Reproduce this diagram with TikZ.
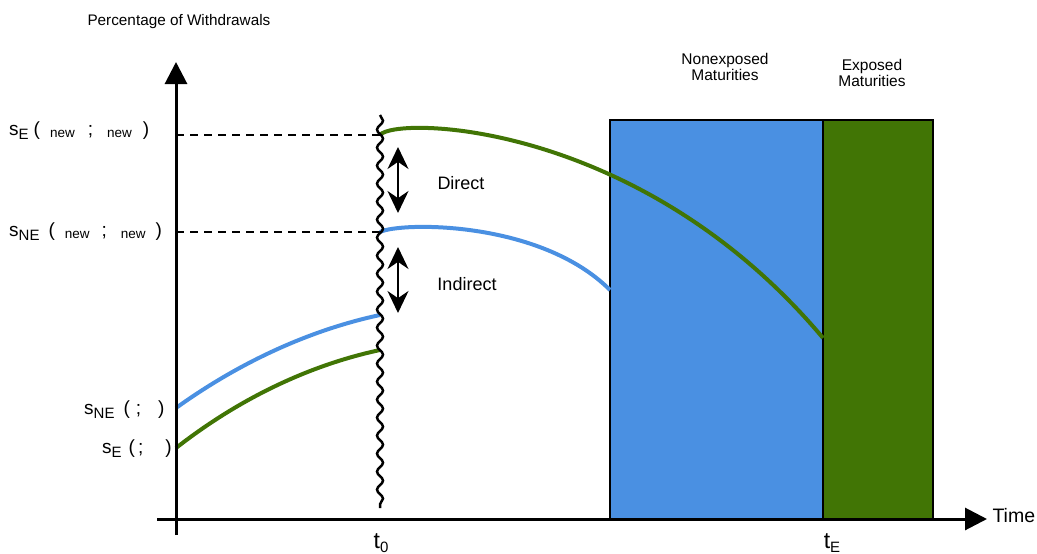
\documentclass[tikz,border=0pt]{standalone}
\usepackage{fontspec}
\setmainfont{Liberation Sans}
\usetikzlibrary{arrows.meta,decorations.pathmorphing}
\definecolor{nexblue}{HTML}{4A90E2}
\definecolor{exgreen}{HTML}{417505}
\newcommand\lowsub[1]{\raisebox{-3.5pt}{\fontsize{15}{16}\selectfont #1}}
\newcommand\smallnew{\raisebox{-2pt}{\fontsize{13.5}{14}\selectfont new}}
\begin{document}
\begin{tikzpicture}[x=1pt, y=-1pt,
    axis/.style={line width=3pt, -{Triangle[length=22pt,width=22pt]}},
    curve/.style={line width=4pt},
    guide/.style={line width=1.2pt, dash pattern=on 8pt off 6pt},
    effect/.style={line width=2pt, {Stealth[length=22pt,width=21pt]}-{Stealth[length=22pt,width=21pt]}},
    slabel/.style={anchor=west, inner sep=0pt, font=\fontsize{19}{20}\selectfont},
    tlabel/.style={font=\fontsize{18}{20}\selectfont},
    boxlabel/.style={align=center, font=\fontsize{15.5}{16.5}\selectfont}]
    \useasboundingbox (0,0) rectangle (1037,554);
        % maturity boxes
        \fill[nexblue] (610,120) rectangle (823,519);
        \fill[exgreen] (823,120) rectangle (933,519);
        \draw[line width=1.5pt] (610,519) -- (610,120) -- (933,120) -- (933,519);
        \draw[line width=1.5pt] (823,120) -- (823,519);
        \node[boxlabel] (nonexp) at (725,67) {Nonexposed\\Maturities};
        \node[boxlabel] (exp) at (872,73) {Exposed\\Maturities};
        % points on the axes and on the shock line
        \coordinate (yE) at (176,135);
        \coordinate (yNE) at (176,232);
        \coordinate (seNew) at (380,135);
        \coordinate (sneNew) at (380,232);
        \coordinate (sneOld) at (176,408);
        \coordinate (seOld) at (176,448);
        \coordinate (sneShock) at (380,315);
        \coordinate (seShock) at (380,350);
        \coordinate (nexEnd) at (610,290);
        \coordinate (exEnd) at (823,338);
        \coordinate (shockTop) at (380,115);
        \coordinate (shockBot) at (380,508);
        % dashed guides
        \draw[guide] (yE) -- (seNew);
        \draw[guide] (yNE) -- (sneNew);
        % withdrawal curves
        \draw[curve, nexblue] (sneOld) .. controls (240,362) and (310,330) .. (sneShock);
        \draw[curve, exgreen] (seOld) .. controls (240,398) and (310,365) .. (seShock);
        \draw[curve, nexblue] (sneNew) .. controls (400,222) and (540,220) .. (nexEnd);
        \draw[curve, exgreen] (seNew) .. controls (395,116) and (640,120) .. (exEnd);
        % shock
        \draw[line width=2.5pt, decorate, decoration={snake, amplitude=3pt, segment length=18pt}] (shockTop) -- (shockBot);
        % effects
        \coordinate (dirTop) at (398,147);
        \coordinate (dirBot) at (398,213);
        \coordinate (indTop) at (398,247);
        \coordinate (indBot) at (398,313);
        \draw[effect] (dirTop) -- (dirBot);
        \draw[effect] (indTop) -- (indBot);
        \node[tlabel] (direct) at (461,183) {Direct};
        \node[tlabel] (indirect) at (467,284) {Indirect};
        % axes
        \coordinate (xStart) at (157,519);
        \coordinate (xEnd) at (987,519);
        \coordinate (yStart) at (176,535);
        \coordinate (yEnd) at (176,62);
        \draw[axis] (yStart) -- (yEnd);
        \draw[axis] (xStart) -- (xEnd);
        \node[anchor=west, font=\fontsize{19.5}{22}\selectfont] (time) at (989,516) {Time};
        \node[anchor=west, font=\fontsize{15.3}{17}\selectfont] (ylab) at (84,22) {Percentage of Withdrawals};
        \node[font=\fontsize{23}{25}\selectfont] (t0) at (381,543) {t\lowsub{0}};
        \node[font=\fontsize{23}{25}\selectfont] (tE) at (832,543) {t\lowsub{E}};
        % left labels
        \node[slabel] (lseNew) at (9,131) {s\lowsub{E}\hspace{5pt}(\hspace{10pt}\smallnew\hspace{13pt};\hspace{14pt}\smallnew\hspace{11pt})};
        \node[slabel] (lsneNew) at (9,232) {s\lowsub{NE}\hspace{9pt}(\hspace{10pt}\smallnew\hspace{12pt};\hspace{14pt}\smallnew\hspace{10pt})};
        \node[slabel] (lseOld) at (102,449) {s\lowsub{E}\hspace{7pt}(\hspace{3pt};\hspace{22pt})};
        \node[slabel] (lsneOld) at (84,410) {s\lowsub{NE}\hspace{9pt}(\hspace{6pt};\hspace{17pt})};
    \end{tikzpicture}
\end{document}
